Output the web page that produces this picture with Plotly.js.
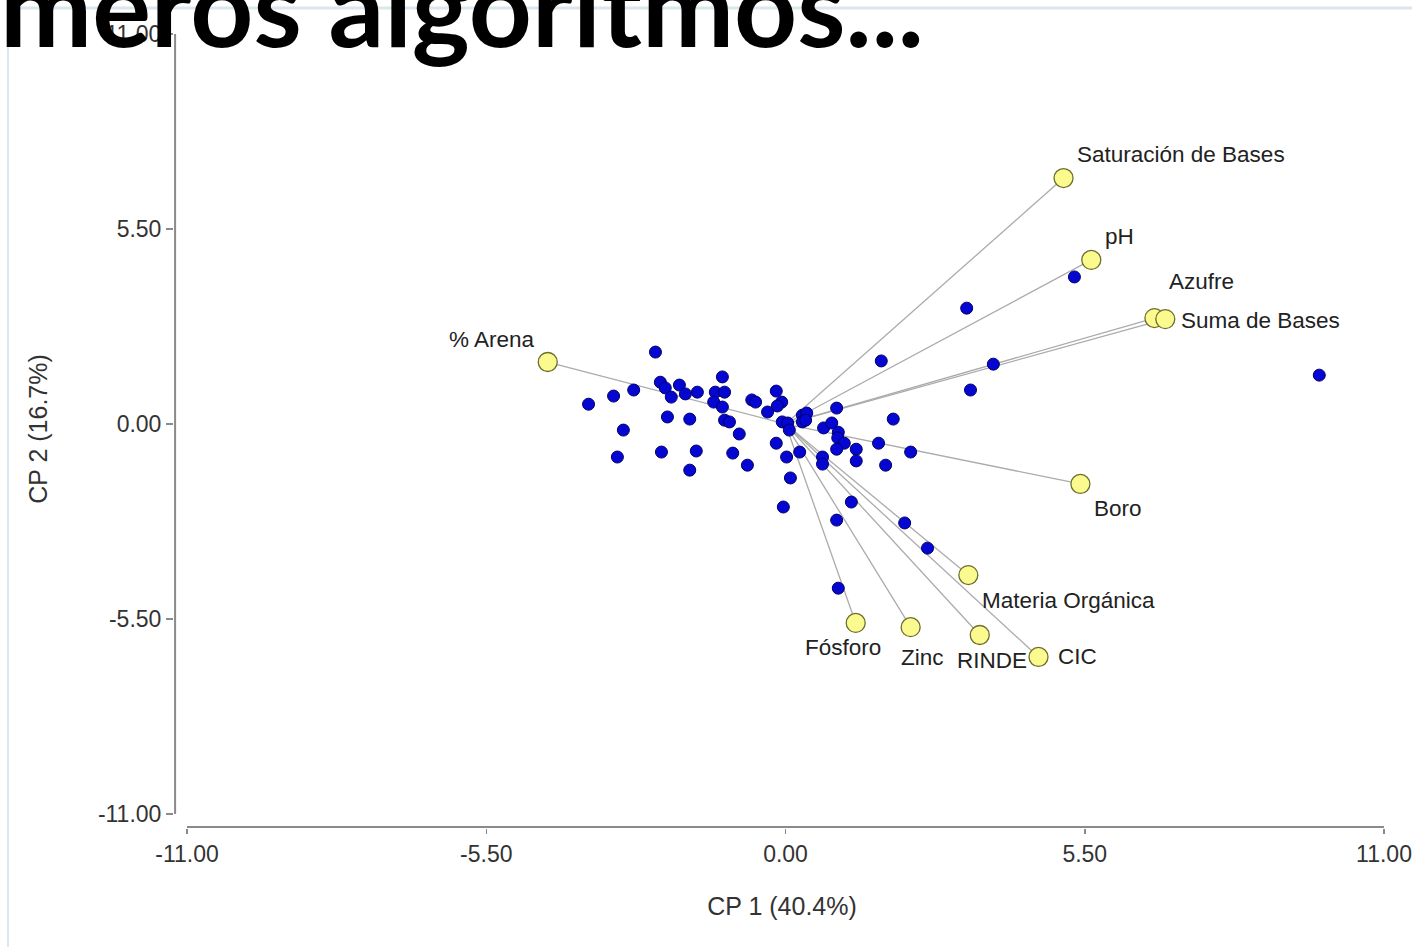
<!DOCTYPE html>
<html>
<head>
<meta charset="utf-8">
<script src="https://cdn.plot.ly/plotly-3.0.1.min.js"></script>
<style>html,body{margin:0;padding:0;background:#fff;}#chart{width:1412px;height:947px;}</style>
</head>
<body>
<div id="chart"></div>
<script>
// ---- data ----
const varNames = ['Saturación de Bases', 'pH', 'Azufre', 'Suma de Bases', '% Arena', 'Boro',
  'Materia Orgánica', 'Fósforo', 'Zinc', 'RINDE', 'CIC'];
const varX = [5.11, 5.62, 6.78, 6.98, -4.37, 5.42, 3.36, 1.29, 2.30, 3.57, 4.65];
const varY = [6.94, 4.63, 2.99, 2.96, 1.75, -1.69, -4.26, -5.61, -5.73, -5.95, -6.57];

const obsX = [-2.39, -3.62, -3.16, -2.79, -2.30, -2.21, -2.10, -1.95, -1.84, -1.62,
  -1.16, -1.29, -1.12, -1.32, -1.16, -1.12, -1.03, -0.85, -2.17, -1.76,
  -2.98, -3.09, -2.28, -1.64, -0.97, -1.76, -0.70, -0.62, -0.55, -0.17,
  -0.07, -0.15, -0.33, -0.06, 0.04, 0.07, 0.31, 0.39, 0.31, 0.37,
  0.94, 1.98, 0.70, 0.85, 0.97, 0.96, 1.08, 0.94, 1.30, 1.30,
  1.71, 2.30, 1.84, -0.17, 0.02, 0.26, 0.68, 0.68, 0.09, 1.21,
  -0.04, 0.94, 2.19, 2.61, 0.97, 3.33, 1.76, 3.82, 3.40, 5.31, 9.81];
const obsY = [2.03, 0.56, 0.79, 0.96, 1.18, 1.02, 0.76, 1.10, 0.85, 0.90,
  1.33, 0.90, 0.90, 0.62, 0.48, 0.11, 0.06, -0.28, 0.20, 0.14,
  -0.17, -0.93, -0.79, -0.76, -0.82, -1.30, -1.16, 0.68, 0.62, 0.93,
  0.62, 0.51, 0.34, 0.06, 0.03, -0.17, 0.25, 0.31, 0.06, 0.11,
  0.45, 0.14, -0.11, 0.03, -0.23, -0.39, -0.54, -0.71, -0.71, -1.04,
  -0.54, -0.79, -1.16, -0.54, -0.93, -0.79, -0.93, -1.13, -1.52, -2.20,
  -2.34, -2.71, -2.79, -3.50, -4.63, 3.27, 1.78, 1.69, 0.96, 4.15, 1.38];

const tickVals = [-11, -5.5, 0, 5.5, 11];
const tickText = ['-11.00', '-5.50', '0.00', '5.50', '11.00'];
const xTitle = 'CP 1 (40.4%)';
const yTitle = 'CP 2 (16.7%)';
const slideTitle = 'meros algoritmos...';

// ---- label placement (style only) ----
const labelPos = [
  {xa: 'left', dx: 11, dy: 24},
  {xa: 'left', dx: 12, dy: 23},
  {xa: 'left', dx: 13, dy: 37},
  {xa: 'left', dx: 14, dy: -1},
  {xa: 'right', dx: -11, dy: 23},
  {xa: 'left', dx: 12, dy: -25},
  {xa: 'left', dx: 12, dy: -25},
  {xa: 'center', dx: -13, dy: -25},
  {xa: 'center', dx: 12, dy: -30},
  {xa: 'center', dx: 12, dy: -26},
  {xa: 'left', dx: 17, dy: 0}
];

const FONT = 'Liberation Sans, Arial, sans-serif';

// vector lines from origin
const lx = [], ly = [];
varX.forEach((v, i) => { lx.push(0, v, null); ly.push(0, varY[i], null); });

const traces = [
  {type: 'scatter', mode: 'lines', x: lx, y: ly, hoverinfo: 'skip',
   line: {color: '#ababab', width: 1.3}, showlegend: false},
  {type: 'scatter', mode: 'markers', x: obsX, y: obsY,
   marker: {size: 12, color: '#0606d2', line: {color: '#00006a', width: 1}}, showlegend: false},
  {type: 'scatter', mode: 'markers', x: varX, y: varY, text: varNames,
   marker: {size: 19, color: '#fafa8e', line: {color: '#6e6e2c', width: 1.3}}, showlegend: false}
];

const annotations = varNames.map((n, i) => ({
  x: varX[i], y: varY[i], xref: 'x', yref: 'y', text: n, showarrow: false,
  xanchor: labelPos[i].xa, yanchor: 'middle', xshift: labelPos[i].dx, yshift: labelPos[i].dy,
  font: {family: FONT, size: 22.5, color: '#222'}
}));

const L = 174, R = 22, T = 30, B = 119;
const xmin = -11.239, xmax = 11.110, ymin = -11.395, ymax = 11.116;

const layout = {
  width: 1412, height: 947,
  margin: {l: L, r: R, t: T, b: B},
  paper_bgcolor: '#ffffff', plot_bgcolor: '#ffffff',
  showlegend: false,
  title: {text: slideTitle, x: 0, xref: 'container', xanchor: 'left', y: 0.9915, yref: 'container', yanchor: 'middle',
          font: {family: 'Lato, sans-serif', size: 110, color: '#000', weight: 'bold'}},
  xaxis: {range: [xmin, xmax], showgrid: false, zeroline: false, showline: false,
          tickmode: 'array', tickvals: tickVals, ticktext: tickText, ticks: 'outside', ticklen: 5,
          tickwidth: 1.5, tickcolor: '#8a8a8a', tickfont: {family: FONT, size: 23, color: '#333'},
          title: {text: xTitle, font: {family: FONT, size: 25, color: '#333'}, standoff: 31}},
  yaxis: {range: [ymin, ymax], showgrid: false, zeroline: false, showline: false,
          tickmode: 'array', tickvals: tickVals, ticktext: tickText, ticks: 'outside', ticklen: 7,
          tickwidth: 1.5, tickcolor: '#8a8a8a', tickfont: {family: FONT, size: 23, color: '#333'},
          title: {text: yTitle, font: {family: FONT, size: 25, color: '#333'}, standoff: 43}},
  shapes: [
    {type: 'line', xref: 'x', yref: 'y', x0: xmin + 0.02, x1: xmin + 0.02, y0: -11, y1: 11,
     line: {color: '#8a8a8a', width: 2}},
    {type: 'line', xref: 'x', yref: 'y', x0: -11, x1: 11, y0: ymin + 0.03, y1: ymin + 0.03,
     line: {color: '#8a8a8a', width: 2}},
    {type: 'line', xref: 'paper', yref: 'paper', x0: (8 - L) / 1216, x1: (8 - L) / 1216,
     y0: (828 - 947) / 798, y1: (828 - 8) / 798, line: {color: '#dce7ec', width: 2}, layer: 'below'},
    {type: 'line', xref: 'paper', yref: 'paper', x0: (8 - L) / 1216, x1: (1412 - L) / 1216,
     y0: (828 - 8) / 798, y1: (828 - 8) / 798, line: {color: '#dce7ec', width: 3}, layer: 'below'}
  ],
  annotations: annotations
};

Plotly.newPlot('chart', traces, layout, {displayModeBar: false, staticPlot: true});
</script>
</body>
</html>
